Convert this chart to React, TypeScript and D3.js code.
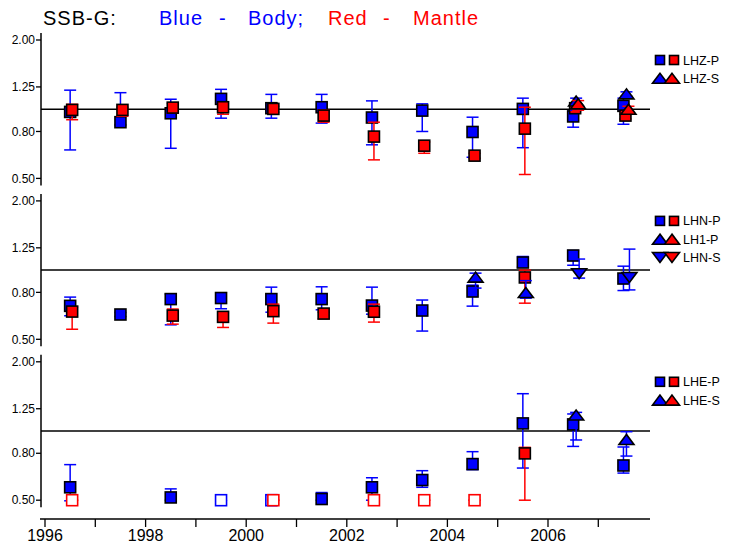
import * as d3 from 'd3';

// [year, value, low, high]
type Pt = [number, number, number, number];

const BLUE = '#0000ff';
const RED = '#ff0000';

const yTicks = [0.5, 0.8, 1.25, 2.0];
const yearTicks = d3.range(1996, 2008);
const yearLabels = [1996, 1998, 2000, 2002, 2004, 2006];

// ---- LHZ ----
const lhzPBody: Pt[] = [
  [1996.5, 0.973, 0.665, 1.21],
  [1997.5, 0.878, 0.854, 1.18],
  [1998.5, 0.96, 0.676, 1.105],
  [1999.5, 1.109, 0.914, 1.22],
  [2000.5, 1.01, 0.914, 1.16],
  [2001.5, 1.02, 0.87, 1.16],
  [2002.5, 0.92, 0.7, 1.087],
  [2003.5, 0.986, 0.8, 1.055],
  [2004.5, 0.796, 0.618, 0.923],
  [2005.5, 1.003, 0.68, 1.117],
  [2006.5, 0.93, 0.835, 0.983],
  [2007.5, 1.034, 0.86, 1.117],
];
const lhzPMantle: Pt[] = [
  [1996.5, 0.993, 0.9, 1.05],
  [1997.5, 0.993, 0.932, 1.02],
  [1998.5, 1.016, 0.96, 1.06],
  [1999.5, 1.02, 0.951, 1.055],
  [2000.5, 1.003, 0.97, 1.03],
  [2001.5, 0.938, 0.878, 0.993],
  [2002.5, 0.76, 0.602, 0.878],
  [2003.5, 0.694, 0.643, 0.72],
  [2004.5, 0.628, 0.612, 0.643],
  [2005.5, 0.823, 0.52, 1.02],
  [2006.5, 1.01, 0.98, 1.05],
  [2007.5, 0.938, 0.907, 0.953],
];
const lhzSBody: Pt[] = [
  [2006.5, 1.085, 0.99, 1.117],
  [2007.5, 1.166, 1.14, 1.19],
];
const lhzSMantle: Pt[] = [
  [2006.5, 1.055, 0.99, 1.09],
  [2007.5, 1.0, 0.97, 1.03],
];

// ---- LHN ----
const lhnPBody: Pt[] = [
  [1996.5, 0.699, 0.633, 0.763],
  [1997.5, 0.641, 0.628, 0.654],
  [1998.5, 0.748, 0.578, 0.786],
  [1999.5, 0.756, 0.679, 0.797],
  [2000.5, 0.748, 0.656, 0.843],
  [2001.5, 0.748, 0.672, 0.846],
  [2002.5, 0.701, 0.643, 0.843],
  [2003.5, 0.667, 0.543, 0.741],
  [2004.5, 0.807, 0.697, 0.86],
  [2005.5, 1.079, 1.03, 1.146],
  [2006.5, 1.157, 1.05, 1.217],
  [2007.5, 0.919, 0.815, 1.04],
];
const lhnPMantle: Pt[] = [
  [1996.5, 0.66, 0.553, 0.69],
  [1998.5, 0.634, 0.582, 0.677],
  [1999.5, 0.626, 0.563, 0.65],
  [2000.5, 0.663, 0.588, 0.711],
  [2001.5, 0.647, 0.614, 0.656],
  [2002.5, 0.659, 0.594, 0.711],
  [2005.5, 0.929, 0.718, 1.0],
];
const lh1PBody: Pt[] = [
  [2004.5, 0.932, 0.835, 0.97],
  [2005.5, 0.799, 0.755, 0.9],
];
const lhnSBody: Pt[] = [
  [2006.5, 0.964, 0.923, 1.117],
  [2007.5, 0.929, 0.82, 1.234],
];

// ---- LHE ----
const lhePBody: Pt[] = [
  [1996.5, 0.569, 0.497, 0.714],
  [1998.5, 0.514, 0.5, 0.56],
  [2001.5, 0.506, 0.5, 0.54],
  [2002.5, 0.569, 0.5, 0.626],
  [2003.5, 0.612, 0.569, 0.672],
  [2004.5, 0.718, 0.679, 0.813],
  [2005.5, 1.079, 0.69, 1.453],
  [2006.5, 1.068, 0.857, 1.186],
  [2007.5, 0.708, 0.656, 0.852],
];
const lhePBodyOpen: Pt[] = [
  [1999.5, 0.5, 0.5, 0.5],
  [2000.5, 0.5, 0.5, 0.5],
];
const lhePMantle: Pt[] = [[2005.5, 0.799, 0.5, 0.849]];
const lhePMantleOpen: Pt[] = [
  [1996.5, 0.5, 0.5, 0.5],
  [2000.5, 0.5, 0.5, 0.5],
  [2002.5, 0.5, 0.5, 0.5],
  [2003.5, 0.5, 0.5, 0.5],
  [2004.5, 0.5, 0.5, 0.5],
];
const lheSBody: Pt[] = [
  [2006.5, 1.174, 0.914, 1.205],
  [2007.5, 0.919, 0.778, 0.993],
];

type Shape = 'square' | 'up' | 'down';
interface Series {
  data: Pt[];
  color: string;
  shape: Shape;
  dx: number;
  open?: boolean;
}
interface LegendRow {
  shape: Shape;
  label: string;
}
interface PanelDef {
  series: Series[];
  legend: LegendRow[];
}

const panels: PanelDef[] = [
  {
    series: [
      { data: lhzPBody, color: BLUE, shape: 'square', dx: 0 },
      { data: lhzPMantle, color: RED, shape: 'square', dx: 2 },
      { data: lhzSBody, color: BLUE, shape: 'up', dx: 3 },
      { data: lhzSMantle, color: RED, shape: 'up', dx: 5 },
    ],
    legend: [
      { shape: 'square', label: 'LHZ-P' },
      { shape: 'up', label: 'LHZ-S' },
    ],
  },
  {
    series: [
      { data: lhnPBody, color: BLUE, shape: 'square', dx: 0 },
      { data: lhnPMantle, color: RED, shape: 'square', dx: 2 },
      { data: lh1PBody, color: BLUE, shape: 'up', dx: 3 },
      { data: lhnSBody, color: BLUE, shape: 'down', dx: 6 },
    ],
    legend: [
      { shape: 'square', label: 'LHN-P' },
      { shape: 'up', label: 'LH1-P' },
      { shape: 'down', label: 'LHN-S' },
    ],
  },
  {
    series: [
      { data: lhePBody, color: BLUE, shape: 'square', dx: 0 },
      { data: lhePBodyOpen, color: BLUE, shape: 'square', dx: 0, open: true },
      { data: lhePMantle, color: RED, shape: 'square', dx: 2 },
      { data: lhePMantleOpen, color: RED, shape: 'square', dx: 2, open: true },
      { data: lheSBody, color: BLUE, shape: 'up', dx: 3 },
    ],
    legend: [
      { shape: 'square', label: 'LHE-P' },
      { shape: 'up', label: 'LHE-S' },
    ],
  },
];

const W = 733;
const H = 551;
const axisX = 41;
const plotRight = 650;
const panelTop = 40;
const panelStep = 160.9;
const panelH = 138.4;
const xAxisY = 519;
const FONT = '"Liberation Sans", Arial, sans-serif';

const xScale = d3.scaleLinear().domain([1996, 2008]).range([45, 648.6]);

function Marker({ shape, x, y, color, open, size = 11 }: { shape: Shape; x: number; y: number; color: string; open?: boolean; size?: number }) {
  if (shape === 'square') {
    const h = size / 2;
    return (
      <rect
        x={x - h}
        y={y - h}
        width={size}
        height={size}
        fill={open ? '#fff' : color}
        stroke={open ? color : '#000'}
        strokeWidth={1.6}
      />
    );
  }
  const hw = 7.5;
  const hh = 5;
  const pts =
    shape === 'up'
      ? `${x},${y - hh} ${x - hw},${y + hh} ${x + hw},${y + hh}`
      : `${x},${y + hh} ${x - hw},${y - hh} ${x + hw},${y - hh}`;
  return <polygon points={pts} fill={color} stroke="#000" strokeWidth={1.6} strokeLinejoin="miter" />;
}

function Panel({ def, index }: { def: PanelDef; index: number }) {
  const top = panelTop + panelStep * index;
  const y = d3.scaleLog().domain([0.5, 2]).range([top + panelH, top]);
  const fmt = d3.format('.2f');
  const capW = 6;
  const legendY = 60 + panelStep * index;

  return (
    <g>
      {/* y axis */}
      <line x1={axisX} x2={axisX} y1={top - 7} y2={top + panelH + 7} stroke="#000" strokeWidth={1.5} />
      {yTicks.map((t) => (
        <g key={t}>
          <line x1={axisX - 5} x2={axisX} y1={y(t)} y2={y(t)} stroke="#000" strokeWidth={1.3} />
          <text x={axisX - 6} y={y(t)} dy="0.35em" textAnchor="end" fontSize={12} fontFamily={FONT} fill="#000">
            {fmt(t)}
          </text>
        </g>
      ))}
      {/* reference line at 1.0 */}
      <line x1={axisX} x2={plotRight} y1={y(1)} y2={y(1)} stroke="#000" strokeWidth={1.5} />

      {def.series.map((s, si) => (
        <g key={si}>
          {s.data.map(([t, v, lo, hi], i) => {
            const cx = xScale(t) + s.dx;
            return (
              <g key={i}>
                <line x1={cx} x2={cx} y1={y(lo)} y2={y(hi)} stroke={s.color} strokeWidth={1.5} />
                <line x1={cx - capW} x2={cx + capW} y1={y(lo)} y2={y(lo)} stroke={s.color} strokeWidth={1.5} />
                <line x1={cx - capW} x2={cx + capW} y1={y(hi)} y2={y(hi)} stroke={s.color} strokeWidth={1.5} />
                <Marker shape={s.shape} x={cx} y={y(v)} color={s.color} open={s.open} />
              </g>
            );
          })}
        </g>
      ))}

      {/* legend */}
      {def.legend.map((row, ri) => {
        const ly = legendY + ri * 18.3;
        return (
          <g key={row.label}>
            <Marker shape={row.shape} x={660} y={ly} color={BLUE} size={9} />
            <Marker shape={row.shape} x={row.shape === 'square' ? 674 : 672} y={ly} color={RED} size={9} />
            <text x={683} y={ly} dy="0.36em" fontSize={12.5} fontFamily={FONT} fill="#000">
              {row.label}
            </text>
          </g>
        );
      })}
    </g>
  );
}

export default function App() {
  return (
    <svg
      width={W}
      height={H}
      viewBox={`0 0 ${W} ${H}`}
      style={{ position: 'absolute', left: 0, top: 0, background: '#fff' }}
    >
      <rect width={W} height={H} fill="#fff" />
      <text y={25} fontSize={20} fontFamily={FONT} letterSpacing={1} xmlSpace="preserve">
        <tspan x={43} fill="#000">SSB-G: </tspan>
        <tspan x={159} fill={BLUE}>Blue </tspan>
        <tspan x={219} fill={BLUE}>- </tspan>
        <tspan x={248} fill={BLUE}>Body; </tspan>
        <tspan x={328} fill={RED}>Red </tspan>
        <tspan x={383} fill={RED}>- </tspan>
        <tspan x={413} fill={RED}>Mantle</tspan>
      </text>

      {panels.map((p, i) => (
        <Panel key={i} def={p} index={i} />
      ))}

      {/* x axis */}
      <line x1={40} x2={plotRight} y1={xAxisY} y2={xAxisY} stroke="#000" strokeWidth={1.5} />
      {yearTicks.map((yr) => (
        <line key={yr} x1={xScale(yr)} x2={xScale(yr)} y1={xAxisY} y2={xAxisY + 8} stroke="#000" strokeWidth={1.3} />
      ))}
      {yearLabels.map((yr) => (
        <text key={yr} x={xScale(yr)} y={541} textAnchor="middle" fontSize={16} fontFamily={FONT} fill="#000">
          {yr}
        </text>
      ))}
    </svg>
  );
}
